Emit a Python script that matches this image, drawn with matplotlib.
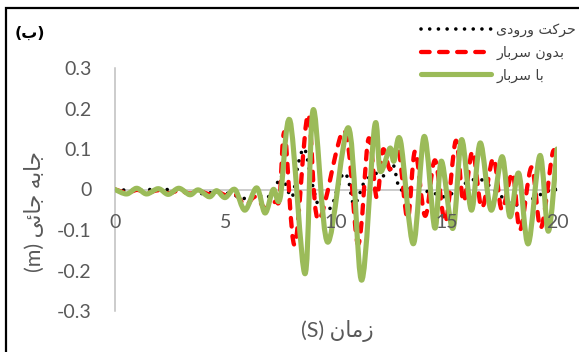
import numpy as np
import matplotlib
matplotlib.use("Agg")
import matplotlib.pyplot as plt
from matplotlib.path import Path
from matplotlib.patches import PathPatch, Rectangle
from matplotlib.lines import Line2D

# ---------------- data ----------------
series_names = ["حرکت ورودی", "بدون سربار", "با سربار"]

t_input = [0.0, 0.8, 1.6, 2.34, 3.0, 3.85, 4.5, 5.0, 5.5, 5.9, 6.4, 6.8, 7.2, 7.47,
           7.7, 8.02, 8.3, 8.58, 8.9, 9.2, 9.5, 9.8, 10.05, 10.33, 10.55, 10.78,
           11.0, 11.2, 11.5, 11.84, 12.07, 12.37, 12.58, 12.74, 12.9, 13.47, 14.48,
           14.86, 15.24, 15.69, 16.21, 16.59, 16.9, 17.5, 18.1, 18.78, 19.53, 20.0]
v_input = [0.0, -0.002, 0.0, 0.0, -0.003, -0.01, -0.007, -0.008, -0.016, -0.022,
           -0.012, -0.02, -0.006, 0.033, 0.015, -0.018, 0.065, 0.1, 0.02, -0.04,
           -0.05, -0.042, 0.0, 0.04, 0.025, -0.035, -0.022, 0.01, 0.03, 0.04, 0.032,
           0.044, 0.062, 0.03, 0.0, 0.003, -0.01, -0.018, -0.01, 0.01, 0.024, 0.024,
           0.011, -0.018, -0.038, -0.026, -0.005, 0.0]

t_nosur = [0.0, 0.55, 1.0, 1.45, 1.95, 2.42, 2.9, 3.4, 3.8, 4.3, 4.65, 5.0, 5.45, 5.9,
           6.35, 6.8, 7.25, 7.45, 7.68, 8.13, 8.73, 9.2, 10.38, 11.0, 11.47, 11.84,
           12.12, 12.45, 12.82, 13.24, 13.58, 14.03, 14.48, 14.95, 15.42, 15.77,
           16.18, 16.6, 17.12, 17.5, 17.99, 18.33, 18.85, 19.27, 19.8, 20.0]
v_nosur = [0.0, -0.008, -0.001, -0.008, -0.002, -0.009, -0.003, -0.01, -0.004, -0.012,
           -0.006, -0.014, -0.012, -0.038, -0.018, -0.046, -0.03, -0.02, 0.14, -0.137,
           0.185, -0.075, 0.145, -0.135, 0.125, -0.02, 0.098, 0.05, 0.1, -0.072, 0.095,
           -0.065, 0.072, -0.08, 0.12, -0.03, 0.094, -0.045, 0.077, -0.05, 0.04, -0.1,
           0.055, -0.095, 0.09, 0.06]

t_sur = [0.0, 0.53, 0.98, 1.43, 1.96, 2.41, 2.89, 3.39, 3.77, 4.27, 4.6, 4.98, 5.43,
         5.88, 6.41, 6.79, 7.16, 7.47, 7.92, 8.6, 8.97, 9.62, 10.57, 11.16, 11.75,
         12.0, 12.44, 12.62, 12.92, 13.5, 13.99, 14.47, 14.77, 15.29, 15.68, 16.13,
         16.53, 17.02, 17.52, 17.87, 18.27, 18.7, 19.23, 19.61, 20.0]
v_sur = [0.0, -0.011, 0.003, -0.011, 0.002, -0.012, 0.003, -0.013, -0.001, -0.018,
         -0.003, -0.02, 0.0, -0.051, 0.004, -0.058, 0.0, -0.022, 0.17, -0.208, 0.197,
         -0.13, 0.152, -0.224, 0.157, 0.045, 0.102, 0.07, 0.12, -0.134, 0.131, -0.095,
         0.07, -0.096, 0.123, -0.051, 0.115, -0.051, 0.081, -0.067, 0.04, -0.134,
         0.084, -0.103, 0.1]

x_ticks = [0, 5, 10, 15, 20]
x_ticklabels = ["0", "5", "10", "15", "20"]
y_ticks = [-0.3, -0.2, -0.1, 0.0, 0.1, 0.2, 0.3]
y_ticklabels = ["-0.3", "-0.2", "-0.1", "0", "0.1", "0.2", "0.3"]

panel_label = "ب"
x_title_word = "زمان"
y_title_words = "جابه جائی"

# ---------------- simple Arabic shaping (visual order) ----------------
FORMS = {
    'ا': ('\uFE8D', '\uFE8E', None, None),
    'ب': ('\uFE8F', '\uFE90', '\uFE91', '\uFE92'),
    'ت': ('\uFE95', '\uFE96', '\uFE97', '\uFE98'),
    'ج': ('\uFE9D', '\uFE9E', '\uFE9F', '\uFEA0'),
    'ح': ('\uFEA1', '\uFEA2', '\uFEA3', '\uFEA4'),
    'د': ('\uFEA9', '\uFEAA', None, None),
    'ر': ('\uFEAD', '\uFEAE', None, None),
    'ز': ('\uFEAF', '\uFEB0', None, None),
    'س': ('\uFEB1', '\uFEB2', '\uFEB3', '\uFEB4'),
    'ک': ('\uFB8E', '\uFB8F', '\uFB90', '\uFB91'),
    'م': ('\uFEE1', '\uFEE2', '\uFEE3', '\uFEE4'),
    'ن': ('\uFEE5', '\uFEE6', '\uFEE7', '\uFEE8'),
    'ه': ('\uFEE9', '\uFEEA', '\uFEEB', '\uFEEC'),
    'و': ('\uFEED', '\uFEEE', None, None),
    'ئ': ('\uFE89', '\uFE8A', '\uFE8B', '\uFE8C'),
    'ی': ('\uFBFC', '\uFBFD', '\uFBFE', '\uFBFF'),
}


def rtl(text):
    out = []
    n = len(text)
    for i, ch in enumerate(text):
        if ch not in FORMS:
            out.append(ch)
            continue
        prev = text[i - 1] if i > 0 else None
        nxt = text[i + 1] if i + 1 < n else None
        join_prev = prev in FORMS and FORMS[prev][2] is not None
        join_next = FORMS[ch][2] is not None and nxt in FORMS
        iso, fin, ini, med = FORMS[ch]
        if join_prev and join_next:
            out.append(med)
        elif join_prev:
            out.append(fin)
        elif join_next:
            out.append(ini)
        else:
            out.append(iso)
    return "".join(reversed(out))


def smooth_path(t, v):
    P = np.column_stack([np.asarray(t, float), np.asarray(v, float)])
    n = len(P)
    verts = [P[0]]
    codes = [Path.MOVETO]
    for i in range(n - 1):
        p0 = P[i - 1] if i > 0 else P[i]
        p1 = P[i]
        p2 = P[i + 1]
        p3 = P[i + 2] if i + 2 < n else P[i + 1]
        verts += [p1 + (p2 - p0) / 6.0, p2 - (p3 - p1) / 6.0, p2]
        codes += [Path.CURVE4] * 3
    return Path(verts, codes)


# ---------------- figure ----------------
W, H = 579, 352
fig = plt.figure(figsize=(W / 100, H / 100), dpi=100)
ax = fig.add_axes([115 / W, 1 - 311 / H, (557 - 115) / W, (311 - 68) / H])
ax.set_xlim(0, 20)
ax.set_ylim(-0.3, 0.3)

styles = [
    dict(edgecolor="black", lw=2.6, linestyle=(0, (0.01, 2.4)), capstyle="round"),
    dict(edgecolor="#FF0000", lw=3.1, linestyle=(0, (2.0, 2.2)), capstyle="round"),
    dict(edgecolor="#9BBB59", lw=3.7, linestyle="-", capstyle="round"),
]
data = [(t_input, v_input), (t_nosur, v_nosur), (t_sur, v_sur)]
handles = []
for (t, v), st in zip(data, styles):
    patch = PathPatch(smooth_path(t, v), fill=False, joinstyle="round", **st)
    ax.add_patch(patch)
    handles.append(Line2D([], [], color=st["edgecolor"], lw=st["lw"],
                          linestyle=st["linestyle"], dash_capstyle=st["capstyle"],
                          solid_capstyle="round"))

for s in ["top", "right"]:
    ax.spines[s].set_visible(False)
ax.spines["bottom"].set_position(("data", 0))
ax.spines["left"].set_position(("data", 0))
for s in ["bottom", "left"]:
    ax.spines[s].set_color("#BFBFBF")
    ax.spines[s].set_linewidth(1.1)
ax.spines["bottom"].set_zorder(0.5)
ax.spines["left"].set_zorder(0.5)

ax.set_xticks(x_ticks)
ax.set_xticklabels(x_ticklabels)
ax.set_yticks(y_ticks)
ax.set_yticklabels(y_ticklabels)
ax.tick_params(length=0, labelsize=14, labelcolor="#595959")
ax.tick_params(axis="x", pad=18)
ax.tick_params(axis="y", pad=17)
for lab in ax.get_xticklabels() + ax.get_yticklabels():
    lab.set_family(["Lato", "DejaVu Sans"])
ax.patch.set_visible(False)

# axis titles
fig.text(337 / W, 1 - 331 / H, "(S) " + rtl(x_title_word), ha="center", va="center",
         fontsize=15.5, color="#595959", family=["Lato", "DejaVu Sans"])
fig.text(35 / W, 1 - 212 / H, "(m) " + rtl(y_title_words), ha="center", va="center",
         rotation=90, fontsize=15.5, color="#595959", family=["Lato", "DejaVu Sans"])

# panel label
fig.text(30 / W, 1 - 33 / H, "(" + rtl(panel_label) + ")", ha="center", va="center",
         fontsize=11.5, color="black", family=["DejaVu Sans"], fontweight="bold")

# legend
leg = fig.legend(handles, [rtl(s) for s in series_names], loc="upper left",
                 bbox_to_anchor=(421 / W, 1 - 23 / H), frameon=False,
                 fontsize=10.2, handlelength=4.95, handletextpad=0.35,
                 labelspacing=0.6, borderpad=0, borderaxespad=0)
for txt in leg.get_texts():
    txt.set_color("#404040")
    txt.set_family(["DejaVu Sans"])

# outer frame
fig.add_artist(Rectangle((6 / W, -0.1), 1.2, 1 - 8 / H + 0.1, transform=fig.transFigure,
                         fill=False, edgecolor="black", lw=1.6))

fig.savefig("out.png", dpi=100)
